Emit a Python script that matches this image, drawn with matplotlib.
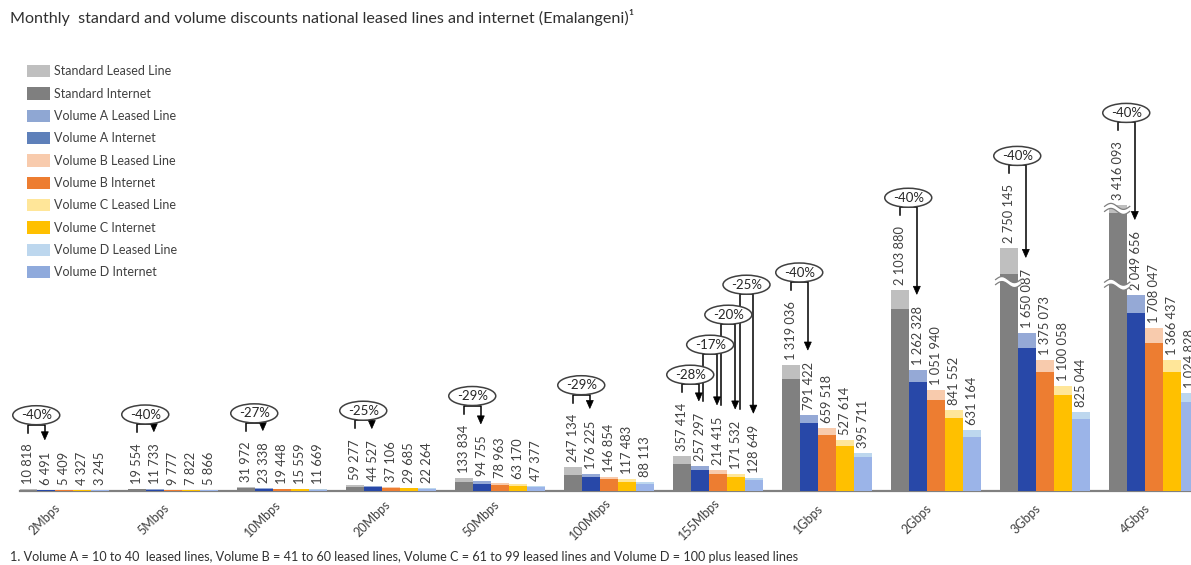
import numpy as np
import matplotlib
matplotlib.use("Agg")
import matplotlib.pyplot as plt
from matplotlib.patches import Ellipse, Patch, Polygon
from matplotlib.lines import Line2D
from matplotlib.transforms import IdentityTransform, ScaledTranslation

plt.rcParams["font.family"] = ["Lato", "DejaVu Sans"]

speeds = ["2Mbps", "5Mbps", "10Mbps", "20Mbps", "50Mbps", "100Mbps",
          "155Mbps", "1Gbps", "2Gbps", "3Gbps", "4Gbps"]

# Monthly leased-line prices (Emalangeni)
standard_ll = [10818, 19554, 31972, 59277, 133834, 247134, 357414, 1319036, 2103880, 2750145, 3416093]
vol_a_ll = [6491, 11733, 23338, 44527, 94755, 176225, 257297, 791422, 1262328, 1650087, 2049656]
vol_b_ll = [5409, 9777, 19448, 37106, 78963, 146854, 214415, 659518, 1051940, 1375073, 1708047]
vol_c_ll = [4327, 7822, 15559, 29685, 63170, 117483, 171532, 527614, 841552, 1100058, 1366437]
vol_d_ll = [3245, 5866, 11669, 22264, 47377, 88113, 128649, 395711, 631164, 825044, 1024828]

# Monthly internet prices (Emalangeni)
standard_int = [7000, 13000, 22000, 42000, 92000, 168000, 280000, 1170000, 1905000, 2350000, 3300000]
vol_a_int = [4500, 8500, 17000, 33000, 68000, 138000, 215000, 705000, 1142000, 1494000, 1866000]
vol_b_int = [3800, 7000, 14000, 27000, 58000, 120000, 173000, 583000, 950000, 1242000, 1551000]
vol_c_int = [3000, 5600, 11000, 22000, 47000, 92000, 143000, 470000, 765000, 998000, 1242000]
vol_d_int = [2300, 4200, 8500, 16000, 37000, 68000, 111000, 353000, 565000, 746000, 927000]

tiers = ["Standard", "Volume A", "Volume B", "Volume C", "Volume D"]
leased = [standard_ll, vol_a_ll, vol_b_ll, vol_c_ll, vol_d_ll]
internet = [standard_int, vol_a_int, vol_b_int, vol_c_int, vol_d_int]

# (speed index, from tier, to tier, stacking level) for the discount call-outs
discount_links = [(0, 0, 1, 0), (1, 0, 1, 0), (2, 0, 1, 0), (3, 0, 1, 0), (4, 0, 1, 0),
                  (5, 0, 1, 0), (6, 0, 1, 0), (6, 1, 2, 1), (6, 2, 3, 2), (6, 3, 4, 3),
                  (7, 0, 1, 0), (8, 0, 1, 0), (9, 0, 1, 0), (10, 0, 1, 0)]

# axis breaks drawn on the tallest bars: (speed index, tier, value)
axis_breaks = [(9, 0, 2.23e6), (10, 0, 2.19e6), (10, 0, 3.36e6)]

bar_ll_colors = ["#BFBFBF", "#95A9D6", "#F8CBAD", "#FFE699", "#BDD7EE"]
bar_int_colors = ["#808080", "#2848A8", "#ED7D31", "#FFC000", "#9BB4E8"]
legend_ll_colors = ["#BFBFBF", "#8FA7D3", "#F8CBAD", "#FFE699", "#BDD7EE"]
legend_int_colors = ["#7F7F7F", "#5E80BA", "#ED7D31", "#FFC000", "#8FAADC"]

TXT = "#404040"
W, H = 1191, 565
fig = plt.figure(figsize=(W / 100, H / 100), dpi=100)

base_px = 490.5      # baseline, pixels from top
top_px = 40.0
per_px = 10500.0     # value per pixel below the break
ax = fig.add_axes([20 / W, (H - base_px) / H, (W - 20) / W, (base_px - top_px) / H])

# compressed scale above the break
T, K = 2.1e6, 0.68
def fwd(v):
    v = np.asarray(v, dtype=float)
    return np.where(v <= T, v, T + (v - T) * K)
def inv(u):
    u = np.asarray(u, dtype=float)
    return np.where(u <= T, u, T + (u - T) / K)
ax.set_yscale("function", functions=(fwd, inv))
ax.set_ylim(0, float(inv((base_px - top_px) * per_px)))
ax.set_xlim(-44 / 109, (W - 64) / 109)

bw = 1 / 6
xs = np.arange(len(speeds))
labels = [[None] * len(speeds) for _ in tiers]
for k in range(len(tiers)):
    xk = xs + (k - 2) * bw
    ax.bar(xk, leased[k], width=bw, color=bar_ll_colors[k], linewidth=0, zorder=2)
    ax.bar(xk, internet[k], width=bw, color=bar_int_colors[k], linewidth=0, zorder=3)
    for i, v in enumerate(leased[k]):
        s = f"{v:,}".replace(",", " ")
        labels[k][i] = ax.annotate(s, (xk[i], v), xytext=(0, 5), textcoords="offset pixels",
                                   rotation=90, ha="center", va="bottom", fontsize=9.3,
                                   color=TXT, zorder=4, annotation_clip=False)

for side in ["top", "left", "right"]:
    ax.spines[side].set_visible(False)
ax.spines["bottom"].set_color("#808080")
ax.spines["bottom"].set_linewidth(1.6)
ax.set_yticks([])
ax.set_xticks(xs)
# category labels: 45 degrees, centred a little left of and below each group
ax.set_xticklabels(speeds, rotation=45, ha="center", va="center",
                   rotation_mode="anchor", fontsize=9, color=TXT)
ax.tick_params(axis="x", length=0, pad=20.5)
shift = ScaledTranslation(-19 / 100, 0, fig.dpi_scale_trans)
for lab in ax.get_xticklabels():
    lab.set_transform(lab.get_transform() + shift)

fig.canvas.draw()
ident = IdentityTransform()

def px_x(k, i):
    return ax.transData.transform((xs[i] + (k - 2) * bw, 0))[0]

def label_top(k, i):
    return labels[k][i].get_window_extent().y1

# discount call-outs
prev = {}
for (i, a, b, lvl) in discount_links:
    xl = px_x(a, i) + (3.5 if lvl > 0 else 0)
    xa = px_x(b, i) - 1
    tip = label_top(b, i) + 12
    if lvl == 0:
        by = label_top(a, i) + 19
        tick_end = by - 8
    else:
        pby, ptip = prev[(i, lvl - 1)]
        by = pby + 30
        tick_end = ptip
    prev[(i, lvl)] = (by, tip)
    head = 8
    fig.add_artist(Line2D([xl, xl, xa, xa], [tick_end, by, by, tip + head],
                          transform=ident, color="black", lw=1.1, zorder=5))
    fig.add_artist(Polygon([[xa - 3.5, tip + head], [xa + 3.5, tip + head], [xa, tip]],
                           closed=True, transform=ident, facecolor="black",
                           edgecolor="black", lw=0.5, zorder=5))
    cx, cy = (xl + xa) / 2, by + 9.5
    fig.add_artist(Ellipse((cx, cy), 47, 19, transform=ident, facecolor="white",
                           edgecolor="#404040", lw=1.1, zorder=6))
    pct = round((leased[b][i] / leased[a][i] - 1) * 100)
    fig.text(cx, cy, f"{pct}%", transform=ident, ha="center", va="center",
             fontsize=9.5, color="#262626", zorder=7)

# wavy break marks
for (i, k, v) in axis_breaks:
    x0 = px_x(k, i) - bw * 109 / 2 - 4
    x1 = px_x(k, i) + bw * 109 / 2 + 3
    yc = ax.transData.transform((0, v))[1]
    t = np.linspace(0, 1, 40)
    wx = x0 + (x1 - x0) * t
    wy = yc + 3 * np.sin(2 * np.pi * t)
    pts = np.vstack([np.column_stack([wx, wy + 2.5]), np.column_stack([wx[::-1], wy[::-1] - 2.5])])
    fig.add_artist(Polygon(pts, closed=True, transform=ident, facecolor="white",
                           edgecolor="none", zorder=4))
    for off in (2.5, -2.5):
        fig.add_artist(Line2D(wx, wy + off, transform=ident, color="#7F7F7F", lw=0.9, zorder=4))

# legend
handles, names = [], []
for k, t in enumerate(tiers):
    handles.append(Patch(facecolor=legend_ll_colors[k], edgecolor="none"))
    names.append(f"{t} Leased Line")
    handles.append(Patch(facecolor=legend_int_colors[k], edgecolor="none"))
    names.append(f"{t} Internet")
fig.legend(handles, names, loc="upper left", bbox_to_anchor=(27 / W, 1 - 65 / H),
           frameon=False, fontsize=9, handlelength=1.85, handleheight=1.15,
           labelspacing=0.79, handletextpad=0.35, borderpad=0, borderaxespad=0,
           labelcolor=TXT)

fig.text(10 / W, 1 - 18 / H,
         "Monthly  standard and volume discounts national leased lines and internet (Emalangeni)\u00b9",
         fontsize=11.6, color="#303030", va="center", ha="left")
fig.text(10 / W, 1 - 557 / H,
         "1. Volume A = 10 to 40  leased lines, Volume B = 41 to 60 leased lines, "
         "Volume C = 61 to 99 leased lines and Volume D = 100 plus leased lines",
         fontsize=9.05, color="#303030", va="center", ha="left")

fig.savefig("out.png", dpi=100)
